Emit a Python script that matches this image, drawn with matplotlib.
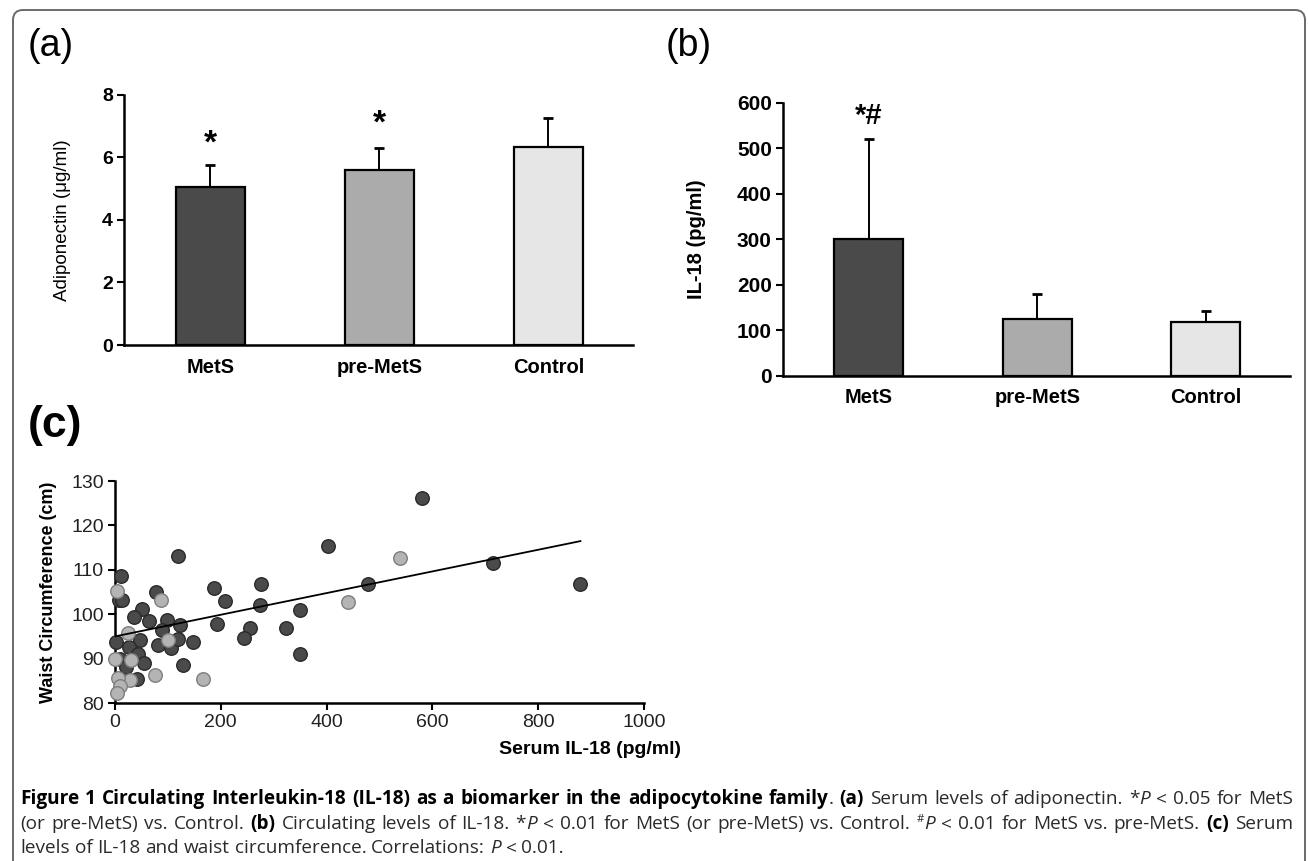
import matplotlib
matplotlib.use("Agg")
import matplotlib.pyplot as plt
import numpy as np
from matplotlib.patches import FancyBboxPatch
from matplotlib import font_manager

# data
groups = ["MetS", "pre-MetS", "Control"]
adipo_mean = [5.05, 5.6, 6.35]
adipo_sd = [0.7, 0.7, 0.9]
il18_mean = [300, 125, 118]
il18_sd = [220, 55, 25]

# panel (c): serum IL-18 (pg/ml) vs waist circumference (cm)
dark_il18 = [580, 403, 715, 880, 478, 119, 11, 8, 14, 77, 187, 208, 277, 274,
             350, 52, 36, 65, 98, 88, 123, 193, 255, 244, 323, 350, 2, 47, 27,
             82, 105, 120, 148, 9.5, 44, 54, 21, 128, 42]
dark_waist = [126.1, 115.3, 111.5, 106.7, 106.9, 113.2, 108.6, 103.3, 103.3,
              105.0, 105.8, 103.0, 106.9, 102.0, 101.0, 101.1, 99.4, 98.4, 98.6,
              96.4, 97.5, 97.7, 97.0, 94.7, 96.8, 91.1, 93.8, 94.3, 92.6, 93.0,
              92.3, 94.5, 93.8, 90.0, 91.1, 88.9, 88.0, 88.5, 85.3]
light_il18 = [539, 440, 4, 87, 25, 101, 0, 31, 76, 28, 6, 9.5, 3, 166]
light_waist = [112.7, 102.8, 105.3, 103.2, 95.8, 94.1, 90.0, 89.6, 86.2, 85.1,
               85.7, 83.8, 82.3, 85.3]
fit_intercept = 95.0
fit_slope = 0.0244
fit_range = [0, 880]

bar_colors = ["#4a4a4a", "#ababab", "#e6e6e6"]


def has_font(name):
    try:
        font_manager.findfont(font_manager.FontProperties(family=name),
                              fallback_to_default=False)
        return True
    except Exception:
        return False


chart_font = "Liberation Sans"
narrow_font = "Liberation Sans Narrow" if has_font("Liberation Sans Narrow") else "Liberation Sans"
cap_font = "Open Sans"
plt.rcParams["font.family"] = [chart_font, "DejaVu Sans"]

W, H = 1308, 861
fig = plt.figure(figsize=(W / 100, H / 100), dpi=100)

# background axes in pixel coordinates, for the frame and the caption
bg = fig.add_axes([0, 0, 1, 1])
bg.set_xlim(0, W)
bg.set_ylim(H, 0)
bg.axis("off")
bg.add_patch(FancyBboxPatch((13, 10), 1292, 900, boxstyle="round,pad=0,rounding_size=10",
                            fill=False, edgecolor="#6a6a6a", linewidth=1.4))


def bar_panel(ax, means, sds):
    x = np.arange(len(groups))
    ax.bar(x, means, width=0.41, color=bar_colors, edgecolor="black",
           linewidth=1.6, zorder=2)
    ax.errorbar(x, means, yerr=[np.zeros(len(means)), sds], fmt="none",
                ecolor="black", elinewidth=1.4, capsize=3.5, capthick=2, zorder=1)
    ax.set_xlim(-0.51, 2.5)
    ax.set_xticks(x)
    ax.set_xticklabels(groups, fontweight="bold", fontsize=14.5)
    ax.tick_params(axis="x", length=0, pad=9)
    ax.tick_params(axis="y", length=5, width=1.5, pad=3, labelsize=14)
    for lab in ax.get_yticklabels():
        lab.set_fontweight("bold")
    for s in ["top", "right"]:
        ax.spines[s].set_visible(False)
    for s in ["left", "bottom"]:
        ax.spines[s].set_linewidth(1.8)


# (a) adiponectin
ax_a = fig.add_axes([0.0948, 0.5993, 0.389, 0.2904])
ax_a.set_ylim(0, 8)
ax_a.set_yticks([0, 2, 4, 6, 8])
bar_panel(ax_a, adipo_mean, adipo_sd)
ax_a.set_ylabel("Adiponectin (\u03bcg/ml)", fontsize=13.5, labelpad=22)
for i, off in zip([0, 1], [4, 6]):
    top = adipo_mean[i] + adipo_sd[i]
    ax_a.annotate("*", xy=(i, top), xytext=(0, off), textcoords="offset points",
                  ha="center", va="bottom", fontsize=24, fontweight="bold")

# (b) IL-18
ax_b = fig.add_axes([0.5986, 0.5633, 0.3876, 0.3171])
ax_b.set_ylim(0, 600)
ax_b.set_yticks(range(0, 601, 100))
bar_panel(ax_b, il18_mean, il18_sd)
ax_b.tick_params(axis="y", labelsize=15)
ax_b.set_ylabel("IL-18 (pg/ml)", fontsize=14.5, fontweight="bold", labelpad=22)
ax_b.annotate("*#", xy=(0, il18_mean[0] + il18_sd[0]), xytext=(0, 7),
              textcoords="offset points", ha="center", va="bottom",
              fontsize=21, fontweight="bold")

# (c) scatter
ax_c = fig.add_axes([0.0879, 0.1835, 0.4044, 0.2578])
ax_c.scatter(dark_il18, dark_waist, s=95, color="#4a4a4a", edgecolors="#2a2a2a",
             linewidths=1.0, zorder=3, clip_on=False)
ax_c.scatter(light_il18, light_waist, s=95, color="#b4b4b4", edgecolors="#7e7e7e",
             linewidths=1.0, zorder=3, clip_on=False)
fx = np.array(fit_range)
ax_c.plot(fx, fit_intercept + fit_slope * fx, color="black", linewidth=1.3, zorder=4)
ax_c.set_xlim(0, 1000)
ax_c.set_ylim(80, 130)
ax_c.set_xticks(range(0, 1001, 200))
ax_c.set_yticks(range(80, 131, 10))
ax_c.tick_params(length=5, width=1.5, labelsize=14, pad=3)
for lab in ax_c.get_xticklabels() + ax_c.get_yticklabels():
    lab.set_family(narrow_font)
    lab.set_color("#222222")
for s in ["top", "right"]:
    ax_c.spines[s].set_visible(False)
for s in ["left", "bottom"]:
    ax_c.spines[s].set_linewidth(1.8)
ax_c.set_ylabel("Waist Circumference (cm)", fontsize=13, fontweight="bold", labelpad=10)
ax_c.set_xlabel("Serum IL-18 (pg/ml)", fontsize=14, fontweight="bold", family=narrow_font)
ax_c.xaxis.set_label_coords(1.07, -0.17)
ax_c.xaxis.label.set_ha("right")

# panel letters
bg.text(28, 46, "(a)", fontsize=27, va="center", ha="left", family="Liberation Sans")
bg.text(666, 46, "(b)", fontsize=27, va="center", ha="left", family="Liberation Sans")
bg.text(28, 426, "(c)", fontsize=32, va="center", ha="left", fontweight="bold",
        family="Liberation Sans")

# caption, drawn word by word so the first two lines can be justified
caption = [
    ([("Figure 1 Circulating Interleukin-18 (IL-18) as a biomarker in the adipocytokine family", "b"),
      (". ", "r"), ("(a)", "b"), (" Serum levels of adiponectin. *", "r"), ("P", "i"),
      (" < 0.05 for MetS", "r")], True),
    ([("(or pre-MetS) vs. Control. ", "r"), ("(b)", "b"),
      (" Circulating levels of IL-18. *", "r"), ("P", "i"),
      (" < 0.01 for MetS (or pre-MetS) vs. Control. ", "r"), ("#", "s"), ("P", "i"),
      (" < 0.01 for MetS vs. pre-MetS. ", "r"), ("(c)", "b"), (" Serum", "r")], True),
    ([("levels of IL-18 and waist circumference. Correlations: ", "r"), ("P", "i"),
      (" < 0.01.", "r")], False),
]
cap_size = 13.7
cap_x0, cap_x1 = 20, 1293
cap_base = [804, 829, 853]

renderer = fig.canvas.get_renderer()


def piece_kw(style):
    kw = dict(family=[cap_font, "DejaVu Sans"], fontsize=cap_size, color="#2a2a2a")
    if style == "b":
        kw.update(fontweight="bold", color="black")
    elif style == "i":
        kw.update(style="italic")
    elif style == "s":
        kw.update(fontsize=cap_size * 0.6)
    return kw


def text_width(s, style):
    t = bg.text(0, 0, s, **piece_kw(style))
    w = t.get_window_extent(renderer=renderer).width
    t.remove()
    return w


space_w = text_width("n n", "r") - text_width("nn", "r")

for (runs, justify), yb in zip(caption, cap_base):
    words = [[]]
    for txt, st in runs:
        parts = txt.split(" ")
        for k, p in enumerate(parts):
            if k > 0:
                words.append([])
            if p:
                words[-1].append((p, st))
    words = [w for w in words if w]
    widths = [[text_width(p, st) for p, st in w] for w in words]
    total = sum(sum(ws) for ws in widths)
    gap = space_w
    if justify and len(words) > 1:
        gap = max(space_w * 0.8, (cap_x1 - cap_x0 - total) / (len(words) - 1))
    x = cap_x0
    for w, ws in zip(words, widths):
        for (p, st), pw in zip(w, ws):
            yy = yb - 7 if st == "s" else yb
            bg.text(x, yy, p, va="baseline", ha="left", **piece_kw(st))
            x += pw
        x += gap

fig.savefig("out.png", dpi=100)
